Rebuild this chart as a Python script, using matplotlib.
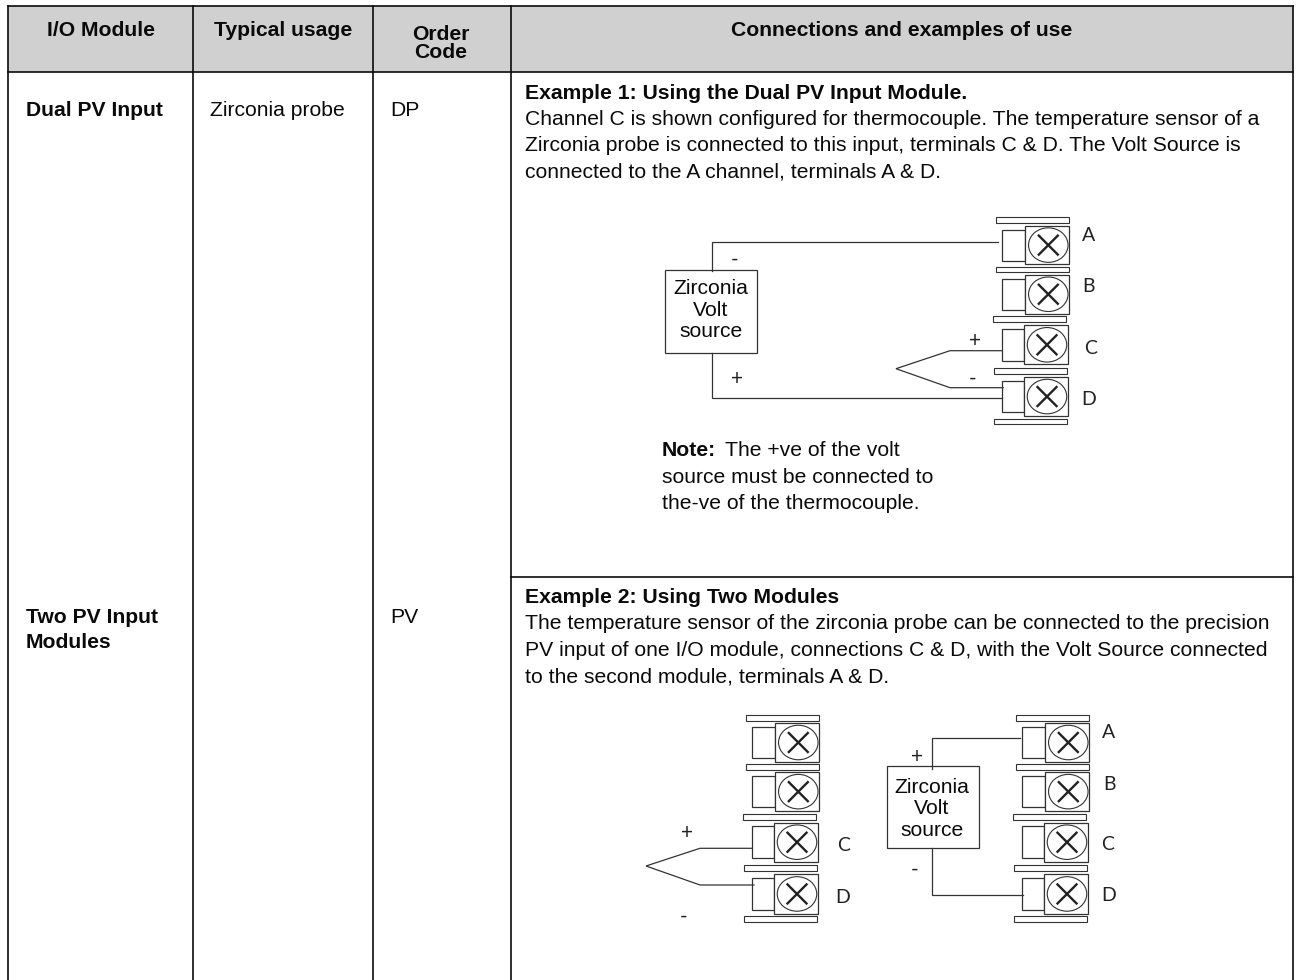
import matplotlib
matplotlib.use("Agg")
import matplotlib.pyplot as plt
from matplotlib.patches import Rectangle, Ellipse

plt.rcParams['font.family'] = ['Liberation Sans', 'DejaVu Sans']

W, H = 1298, 980
LINE = '#0a0a0a'
WIRE = '#333333'
TEXT = '#0a0a0a'
BODY_SIZE = 15.25

# --- table text --- #
col_lines = [8, 193, 373, 511, 1293]
header_labels = [("I/O Module", 100.8, 36), ("Typical usage", 283, 36),
                 ("Order", 441, 39.5), ("Code", 441, 58.5),
                 ("Connections and examples of use", 902, 36)]
module_labels = [("Dual PV Input", 25.5, 116.5), ("Two PV Input", 25.5, 622.7), ("Modules", 25.5, 648.3)]
usage_labels = [("Zirconia probe", 210, 116.5)]
code_labels = [("DP", 390, 116.5), ("PV", 390, 622.7)]

example1_head = "Example 1: Using the Dual PV Input Module."
example1_lines = ["Channel C is shown configured for thermocouple. The temperature sensor of a",
                  "Zirconia probe is connected to this input, terminals C & D. The Volt Source is",
                  "connected to the A channel, terminals A & D."]
note_lines = ["source must be connected to", "the-ve of the thermocouple."]
example2_head = "Example 2: Using Two Modules"
example2_lines = ["The temperature sensor of the zirconia probe can be connected to the precision",
                  "PV input of one I/O module, connections C & D, with the Volt Source connected",
                  "to the second module, terminals A & D."]

# --- terminal stack (base = lower diagram, left one) --- #
bars = [(746.3, 714.7), (746.3, 764.0), (742.7, 813.7), (744.3, 865.3), (744.3, 916.0)]
blocks = [(775.3, 723.3, 38.4), (775.3, 772.3, 38.7), (774.0, 822.7, 39.0), (774.0, 874.3, 39.3)]
stack_shift = [(0, 0), (250, -497.4), (270, 0)]

# --- wires --- #
wires = [[(998.3, 241.7), (712, 241.7), (712, 271)],
         [(712, 352.7), (712, 398), (1002, 398)],
         [(1002, 350.7), (950, 350.7), (896, 368.7), (950, 387.7), (1003.3, 387.7)],
         [(752.3, 848.3), (700, 848.3), (646, 866), (700, 885), (754, 885)],
         [(1020, 738.3), (932, 738.3), (932, 769.3)],
         [(932, 848.3), (932, 895), (1022.7, 895)]]
volt_boxes = [(665.3, 270, 92, 82.7), (886.7, 766, 92, 82.3)]
volt_text = [(711, 288.7, 310.7, 331.7), (931.7, 787.3, 808.3, 830)]
signs = [("-", 734.3, 260), ("+", 737, 379.3), ("+", 974.7, 340.7), ("-", 973, 379),
         ("+", 686.7, 833.3), ("-", 684, 916.7), ("+", 917.3, 757.3), ("-", 914.3, 870)]
term_labels = [("A", 1088.7, 235), ("B", 1088, 286.7), ("C", 1090.7, 348.3), ("D", 1089, 399),
               ("C", 843.3, 845), ("D", 842.3, 897.7),
               ("A", 1109, 732.3), ("B", 1109.3, 784), ("C", 1107.7, 844.3), ("D", 1108.3, 895)]


def draw_stack(ax, dx, dy):
    for bx, by in bars:
        ax.add_patch(Rectangle((bx + dx, by + dy), 73, 5.8, fc='white', ec=WIRE, lw=0.8))
    for x, y, h in blocks:
        ax.add_patch(Rectangle((752.3 + dx, y + dy + 3.7), x - 752.3, h - 7.4, fc='white', ec=WIRE, lw=0.9))
        ax.add_patch(Rectangle((x + dx, y + dy), 43.5, h, fc='white', ec=WIRE, lw=0.9))
        cx, cy = x + dx + 23, y + dy + h / 2
        ax.add_patch(Ellipse((cx, cy), 39.5, 34.5, fc='white', ec=WIRE, lw=0.8))
        ax.plot([cx - 9.5, cx + 9.5], [cy - 9.5, cy + 9.5], color='#222222', lw=1.7)
        ax.plot([cx - 9.5, cx + 9.5], [cy + 9.5, cy - 9.5], color='#222222', lw=1.7)


fig = plt.figure(figsize=(W / 100, H / 100), dpi=100)
ax = fig.add_axes([0, 0, 1, 1])
ax.set_xlim(0, W)
ax.set_ylim(H, 0)
ax.axis('off')

# table frame
ax.add_patch(Rectangle((8, 6), 1285, 66, fc='#d0d0d0', ec='none'))
for x in col_lines:
    ax.plot([x, x], [6, 980], color=LINE, lw=1.2)
ax.plot([8, 1293], [6, 6], color=LINE, lw=1.2)
ax.plot([8, 1293], [72, 72], color=LINE, lw=1.2)
ax.plot([511, 1293], [577, 577], color=LINE, lw=1.2)

for label, x, y in header_labels:
    ax.text(x, y, label, ha='center', fontsize=BODY_SIZE, fontweight='bold', color=TEXT)
for label, x, y in module_labels:
    ax.text(x, y, label, fontsize=BODY_SIZE, fontweight='bold', color=TEXT)
for label, x, y in usage_labels + code_labels:
    ax.text(x, y, label, fontsize=BODY_SIZE, color=TEXT)

ax.text(525, 99, example1_head, fontsize=BODY_SIZE, fontweight='bold', color=TEXT)
for i, line in enumerate(example1_lines):
    ax.text(525, 125 + i * 26, line, fontsize=BODY_SIZE, color=TEXT)
ax.text(662, 456, "Note:", fontsize=BODY_SIZE, fontweight='bold', color=TEXT)
ax.text(725, 456, "The +ve of the volt", fontsize=BODY_SIZE, color=TEXT)
for i, line in enumerate(note_lines):
    ax.text(662, 482.7 + i * 26.6, line, fontsize=BODY_SIZE, color=TEXT)
ax.text(525, 602.7, example2_head, fontsize=BODY_SIZE, fontweight='bold', color=TEXT)
for i, line in enumerate(example2_lines):
    ax.text(525, 629.3 + i * 26.7, line, fontsize=BODY_SIZE, color=TEXT)

# diagrams
for dx, dy in stack_shift:
    draw_stack(ax, dx, dy)
for pts in wires:
    ax.plot([p[0] for p in pts], [p[1] for p in pts], color=WIRE, lw=0.9, solid_joinstyle='miter')
for x, y, w, h in volt_boxes:
    ax.add_patch(Rectangle((x, y), w, h, fc='white', ec=WIRE, lw=0.9))
for cx, y1, y2, y3 in volt_text:
    for label, y in zip(["Zirconia", "Volt", "source"], [y1, y2, y3]):
        ax.text(cx, y, label, ha='center', va='center', fontsize=BODY_SIZE, color=TEXT)
for label, x, y in signs:
    ax.text(x, y, label, ha='center', va='center', fontsize=15, color='#222222', family='Lato')
for label, x, y in term_labels:
    ax.text(x, y, label, ha='center', va='center', fontsize=14, color='#222222', family='Lato')

fig.savefig('out.png', dpi=100)
